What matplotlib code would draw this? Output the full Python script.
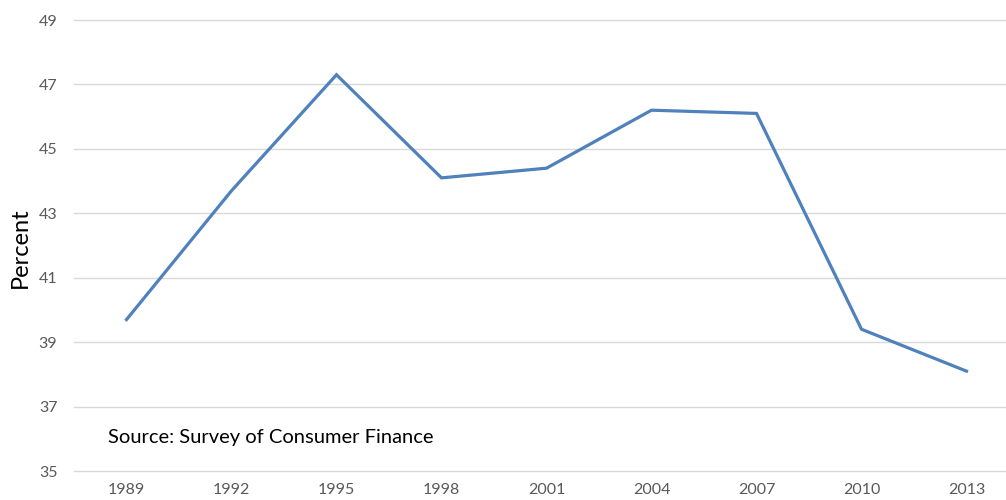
import matplotlib
matplotlib.use("Agg")
import matplotlib.pyplot as plt

years = ["1989", "1992", "1995", "1998", "2001", "2004", "2007", "2010", "2013"]
percent = [39.7, 43.7, 47.3, 44.1, 44.4, 46.2, 46.1, 39.4, 38.1]
y_ticks = [35, 37, 39, 41, 43, 45, 47, 49]

plt.rcParams["font.family"] = ["Lato", "DejaVu Sans"]

W, H = 1006, 500
fig = plt.figure(figsize=(W / 100, H / 100), dpi=100)
# plot area runs a bit past the right edge of the figure
left, right, top, bottom = 74, 1019, 20, 471
ax = fig.add_axes([left / W, 1 - bottom / H, (right - left) / W, (bottom - top) / H])

x = list(range(len(years)))
ax.plot(x, percent, color="#4F81BD", linewidth=2.3, solid_joinstyle="miter")

ax.set_xlim(-0.5, len(years) - 0.5)
ax.set_ylim(35, 49)
ax.set_xticks(x)
ax.set_xticklabels(years)
ax.set_yticks(y_ticks)
ax.grid(axis="y", color="#D9D9D9", linewidth=1)
for gl in ax.get_ygridlines():
    gl.set_clip_on(False)
ax.set_axisbelow(True)
for s in ax.spines.values():
    s.set_visible(False)
ax.tick_params(axis="both", length=0, labelsize=11.5, labelcolor="#595959")
ax.tick_params(axis="x", pad=9)
ax.tick_params(axis="y", pad=12)

fig.text(20 / W, 1 - 248 / H, "Percent", rotation=90, ha="center", va="center",
         fontsize=17, color="black")
fig.text(108 / W, 1 - 438 / H, "Source: Survey of Consumer Finance", ha="left",
         va="center", fontsize=14.5, color="black")

fig.savefig("out.png", dpi=100)
